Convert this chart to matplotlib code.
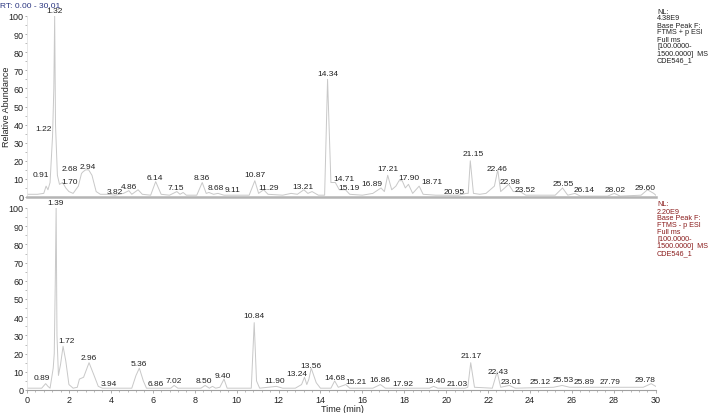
import matplotlib.pyplot as plt
from matplotlib.ticker import MultipleLocator

plt.rcParams['font.family'] = ['Liberation Sans', 'DejaVu Sans']

# positive mode trace (time in min, relative abundance)
top_t = [0.0, 0.5, 0.8, 0.91, 1.0, 1.1, 1.22, 1.28, 1.32, 1.36, 1.45, 1.55, 1.70, 1.85, 2.0, 2.2,
         2.45, 2.6, 2.68, 2.8, 2.94, 3.1, 3.3, 3.5, 3.82, 4.2, 4.6, 4.86, 5.0, 5.3, 5.5, 5.9,
         6.14, 6.4, 6.8, 7.15, 7.3, 7.45, 7.6, 8.1, 8.36, 8.55, 8.68, 8.9, 9.11, 9.4, 10.6,
         10.87, 11.05, 11.29, 11.5, 12.2, 12.6, 12.9, 13.21, 13.4, 13.6, 13.9, 14.2, 14.34,
         14.5, 14.71, 14.9, 15.19, 15.4, 16.0, 16.5, 16.89, 17.05, 17.21, 17.4, 17.6, 17.75,
         17.90, 18.05, 18.2, 18.4, 18.71, 18.9, 19.5, 20.6, 20.95, 21.05, 21.15, 21.3, 21.6,
         21.9, 22.1, 22.3, 22.46, 22.6, 22.98, 23.2, 23.52, 23.8, 25.2, 25.55, 25.8, 26.14,
         26.4, 27.7, 28.02, 28.3, 29.3, 29.6, 29.9, 30.0]
top_i = [1.5, 1.5, 2, 6, 4, 8, 34, 60, 100, 40, 12, 7, 8, 5, 3, 2,
         6, 13, 14, 15, 15, 12, 3, 1.5, 1.5, 1, 2, 3.5, 1.5, 4, 1.5, 1,
         8.5, 1.5, 1, 3, 1.5, 2.5, 1, 1, 8, 2, 2.5, 1.5, 2, 1, 1,
         9, 2, 4, 1.5, 1, 2, 1.5, 4, 2, 3, 1, 1, 65,
         8, 8, 4, 4, 1.5, 1, 2, 5, 3, 12, 4, 6, 9,
         9, 5, 7, 2, 6, 1.5, 1, 1, 2, 2, 20, 2, 1.5,
         2, 4, 6, 15, 3, 7, 3, 3, 1, 1, 5, 1, 2,
         0.5, 0.5, 2, 0.5, 1, 4, 2, 1]

# peak labels and where their centres sit (time, abundance)
top_labels = ['0.91', '1.22', '1.32', '1.70', '2.68', '2.94', '3.82', '4.86', '6.14', '7.15',
              '8.36', '8.68', '9.11', '10.87', '11.29', '13.21', '14.34', '14.71', '15.19',
              '16.89', '17.21', '17.90', '18.71', '20.95', '21.15', '22.46', '22.98', '23.52',
              '25.55', '26.14', '28.02', '29.60']
top_lab_x = [0.67, 0.79, 1.29, 2.05, 2.05, 2.91, 4.2, 4.86, 6.1, 7.1, 8.35, 9.0, 9.83,
             10.87, 11.54, 13.16, 14.35, 15.12, 15.36, 16.45, 17.2, 18.2, 19.3, 20.4, 21.27,
             22.41, 23.03, 23.75, 25.56, 26.6, 28.04, 29.47]
top_lab_y = [12.2, 38, 103, 8.8, 16, 17, 3.0, 5.7, 10.5, 5, 11, 5, 4.4, 12.7, 5.5, 6, 68.5,
             10, 5.5, 7.7, 15.5, 11, 8.3, 3.3, 23.8, 16, 8.8, 4.4, 7.7, 4.4, 4.4, 5.5]

# negative mode trace
bot_t = [0.0, 0.7, 0.89, 1.0, 1.1, 1.25, 1.3, 1.35, 1.39, 1.43, 1.5, 1.6, 1.72, 1.85, 2.0, 2.2,
         2.4, 2.5, 2.7, 2.96, 3.2, 3.4, 3.6, 3.94, 4.5, 5.0, 5.2, 5.36, 5.55, 5.7, 6.5, 6.86,
         7.02, 7.2, 8.3, 8.5, 8.7, 8.85, 9.0, 9.2, 9.40, 9.55, 10.7, 10.84, 10.95, 11.1,
         11.90, 12.2, 12.8, 13.1, 13.24, 13.35, 13.45, 13.56, 13.8, 14.0, 14.5, 14.68, 14.85,
         15.21, 15.4, 16.5, 16.86, 17.1, 17.92, 19.2, 19.40, 19.6, 20.9, 21.03, 21.17, 21.35,
         22.2, 22.43, 22.6, 23.01, 23.3, 25.12, 25.53, 25.89, 27.79, 29.4, 29.78, 30.0]
bot_i = [1, 1, 3.5, 2, 1, 12, 20, 60, 100, 30, 8, 14, 24, 16, 3, 1,
         1.5, 6, 7, 15, 8, 2, 1, 1, 1, 1, 8, 12, 5, 1, 1, 1,
         2.5, 1, 1, 2.5, 1, 2, 1, 1.5, 6, 1, 1, 37, 5, 1,
         2, 1, 1, 3, 7, 3, 6, 12, 4, 1, 1, 5, 1.5,
         3, 1, 1, 3, 1, 1, 1, 2, 1, 1, 1.5, 15, 1.5,
         1, 10, 1.5, 2.5, 1, 1.5, 2.5, 1.5, 1.5, 1.5, 3.5, 2]

bot_labels = ['0.89', '1.39', '1.72', '2.96', '3.94', '5.36', '6.86', '7.02', '8.50', '9.40',
              '10.84', '11.90', '13.24', '13.56', '14.68', '15.21', '16.86', '17.92', '19.40',
              '21.03', '21.17', '22.43', '23.01', '25.12', '25.53', '25.89', '27.79', '29.78']
bot_lab_x = [0.72, 1.38, 1.9, 2.96, 3.9, 5.34, 6.15, 7.0, 8.45, 9.35, 10.83, 11.83, 12.88,
             13.55, 14.69, 15.69, 16.83, 17.93, 19.46, 20.5, 21.17, 22.46, 23.08, 24.46,
             25.56, 26.56, 27.8, 29.47]
bot_lab_y = [6.6, 103, 27, 18, 3.3, 14.8, 3.3, 5, 5, 8.2, 40.7, 5, 8.8, 13.2, 7.1, 4.4, 5.5,
             3.8, 5, 3.8, 18.7, 9.9, 4.4, 4.4, 5.5, 4.4, 4.4, 5.5]

top_info = ['NL:', '4.38E9', 'Base Peak F:', 'FTMS + p ESI', 'Full ms', '[100.0000-',
            '1500.0000]  MS', 'CDE546_1']
bot_info = ['NL:', '2.20E9', 'Base Peak F:', 'FTMS - p ESI', 'Full ms', '[100.0000-',
            '1500.0000]  MS', 'CDE546_1']

fig = plt.figure(figsize=(7.08, 4.14), dpi=100)
ax1 = fig.add_axes([27 / 708, 1 - 198 / 414, 629 / 708, 181 / 414])
ax2 = fig.add_axes([27 / 708, 1 - 391 / 414, 629 / 708, 182 / 414])

trace_col = '#c8c8c8'
axis_col = '#a0a0a0'
text_col = '#222222'


def style(ax, show_x):
    ax.set_xlim(0, 30.01)
    ax.set_ylim(0, 100)
    for s in ['top', 'right']:
        ax.spines[s].set_visible(False)
    ax.spines['left'].set_color('#e4e4e4')
    ax.spines['left'].set_linewidth(0.6)
    ax.yaxis.set_major_locator(MultipleLocator(10))
    ax.yaxis.set_minor_locator(MultipleLocator(5))
    ax.tick_params(axis='y', which='major', length=1.8, width=0.6, color=axis_col,
                   labelsize=6.5, pad=0.8, labelcolor=text_col)
    ax.tick_params(axis='y', which='minor', length=1.2, width=0.5, color=axis_col)
    if show_x:
        ax.spines['bottom'].set_color(axis_col)
        ax.spines['bottom'].set_linewidth(0.8)
        ax.xaxis.set_major_locator(MultipleLocator(2))
        ax.xaxis.set_minor_locator(MultipleLocator(0.4))
        ax.tick_params(axis='x', which='major', length=2.5, width=0.6, color=axis_col,
                       labelsize=6.5, pad=1.2, labelcolor=text_col)
        ax.tick_params(axis='x', which='minor', length=1.5, width=0.5, color=axis_col)
    else:
        ax.spines['bottom'].set_color('#b4b4b4')
        ax.spines['bottom'].set_linewidth(1.8)
        ax.set_xticks([])


style(ax1, False)
style(ax2, True)

ax1.plot(top_t, top_i, color=trace_col, lw=0.7)
ax2.plot(bot_t, bot_i, color=trace_col, lw=0.7)

for lab, x, y in zip(top_labels, top_lab_x, top_lab_y):
    ax1.text(x, y, lab, ha='center', va='center', fontsize=6, color=text_col, clip_on=False)
for lab, x, y in zip(bot_labels, bot_lab_x, bot_lab_y):
    ax2.text(x, y, lab, ha='center', va='center', fontsize=6, color=text_col, clip_on=False)

fig.text(7 / 708, 1 - 107 / 414, 'Relative Abundance', fontsize=6.5, color=text_col,
         rotation=90, ha='center', va='center')
fig.text(342 / 708, 1 - 409.5 / 414, 'Time (min)', fontsize=6.5, color=text_col,
         ha='center', va='center')

fig.text(0.0, 1 - 6 / 414, 'RT: 0.00 - 30.01', fontsize=6, color='#2a3580',
         ha='left', va='center')

for k, line in enumerate(top_info):
    fig.text(657 / 708, 1 - (12 + 7 * k) / 414, line, fontsize=5.2, color=text_col,
             ha='left', va='center')
for k, line in enumerate(bot_info):
    fig.text(657 / 708, 1 - (205 + 7 * k) / 414, line, fontsize=5.2, color='#8a1c1c',
             ha='left', va='center')

fig.savefig('out.png', dpi=100)
